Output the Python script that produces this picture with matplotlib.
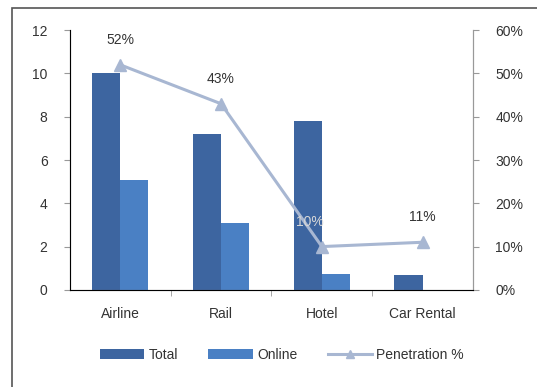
import matplotlib
matplotlib.use("Agg")
import matplotlib.pyplot as plt
import numpy as np
from matplotlib.patches import Rectangle
from matplotlib.ticker import FuncFormatter

categories = ["Airline", "Rail", "Hotel", "Car Rental"]
total = [10.0, 7.2, 7.8, 0.7]
online = [5.1, 3.1, 0.75, 0.0]
penetration = [0.52, 0.43, 0.10, 0.11]
pen_labels = ["52%", "43%", "10%", "11%"]

plt.rcParams["font.family"] = ["Liberation Sans", "DejaVu Sans"]
plt.rcParams["font.size"] = 10

fig = plt.figure(figsize=(5.37, 3.87), dpi=100)
# outer frame, only the top and left edges fall inside the picture
fig.patches.append(Rectangle((12 / 537, -0.1), 1.2, 1.1 - 8 / 387, transform=fig.transFigure,
                             fill=False, edgecolor="#555555", linewidth=1.2))

ax = fig.add_axes([0.130, 0.251, 0.751, 0.671])
x = np.arange(len(categories))
w = 0.28
ax.bar(x - w / 2, total, w, color="#3d65a0", label="Total")
ax.bar(x + w / 2, online, w, color="#4a80c4", label="Online")
ax.set_ylim(0, 12)
ax.set_yticks(range(0, 13, 2))
ax.set_xlim(-0.5, len(categories) - 0.5)
ax.set_xticks(x)
ax.set_xticklabels(categories)
ax.set_xticks(np.arange(0.5, len(categories) - 1, 1), minor=True)
ax.tick_params(axis="x", which="major", length=0, pad=12, labelcolor="#333333")
ax.tick_params(axis="x", which="minor", length=4, color="#999999")
ax.tick_params(axis="y", length=4, color="#999999", pad=12, labelcolor="#333333")
ax.spines["top"].set_visible(False)
for s in ["left", "bottom", "right"]:
    ax.spines[s].set_color("#999999")

ax2 = ax.twinx()
ax2.plot(x, penetration, color="#a8b7d2", linewidth=2.2, marker="^", markersize=9,
         label="Penetration %")
ax2.set_ylim(0, 0.6)
ax2.set_yticks(np.arange(0, 0.61, 0.1))
ax2.yaxis.set_major_formatter(FuncFormatter(lambda v, p: f"{v * 100:.0f}%"))
ax2.tick_params(axis="y", length=4, color="#999999", pad=12, labelcolor="#333333")
ax2.spines["top"].set_visible(False)
ax2.spines["right"].set_color("#999999")
for i, (p, lab) in enumerate(zip(penetration, pen_labels)):
    dx = -0.12 if i == 2 else 0.0
    ax2.annotate(lab, (x[i] + dx, p), xytext=(0, 13), textcoords="offset points",
                 ha="center", va="bottom", color="#d8d8d8" if i == 2 else "#333333")

h1, l1 = ax.get_legend_handles_labels()
h2, l2 = ax2.get_legend_handles_labels()
fig.legend(h1 + h2, l1 + l2, loc="center", bbox_to_anchor=(0.525, 0.083), ncol=3,
           frameon=False, handlelength=3.2, columnspacing=2.2, handletextpad=0.3,
           markerscale=0.6, labelcolor="#333333")

fig.savefig("out.png", dpi=100)
